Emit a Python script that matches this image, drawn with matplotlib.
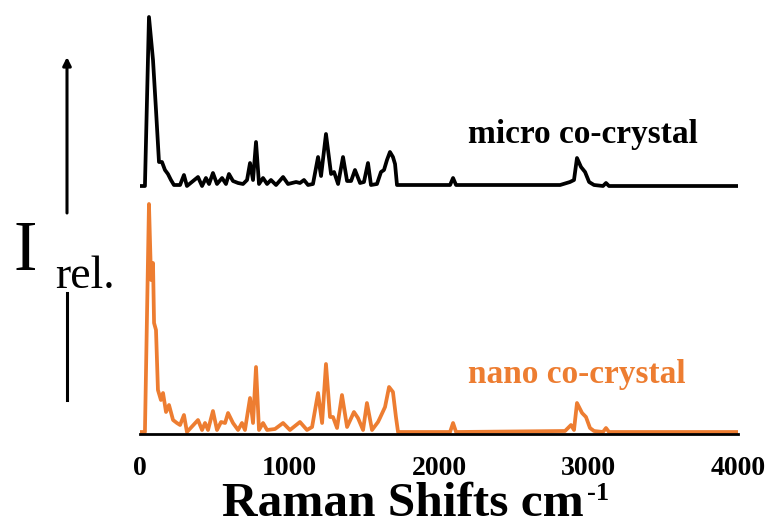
import matplotlib
matplotlib.use("Agg")
import matplotlib.pyplot as plt
from matplotlib.lines import Line2D

# Raman spectra (wavenumber in cm-1, relative intensity)
wn_micro = [0, 33, 60, 87, 107, 127, 147, 167, 187, 207, 227, 268, 294, 314, 388, 415,
            441, 462, 488, 515, 549, 575, 595, 622, 656, 689, 716, 736, 756, 776, 796,
            823, 850, 876, 910, 957, 990, 1044, 1070, 1097, 1124, 1157, 1191, 1211, 1244,
            1278, 1298, 1325, 1358, 1385, 1412, 1438, 1472, 1498, 1525, 1545, 1585, 1612,
            1632, 1652, 1672, 1692, 1706, 1719, 2007, 2074, 2094, 2114, 2810, 2876, 2903,
            2923, 2950, 2977, 3004, 3037, 3097, 3117, 3137, 4000]
int_micro = [0, 0, 169, 126, 76, 24, 24, 16, 12, 6, 1, 1, 11, 0, 9, 0,
             8, 2, 13, 2, 8, 2, 12, 5, 3, 2, 6, 23, 6, 44, 2,
             8, 2, 6, 1, 9, 2, 4, 3, 6, 1, 2, 29, 10, 52,
             12, 14, 2, 29, 5, 5, 16, 3, 4, 23, 1, 2, 14,
             16, 26, 34, 29, 22, 1, 1, 1, 8, 1, 1, 4, 6,
             28, 19, 14, 4, 1, 0, 3, 0, 0]

wn_nano = [0, 33, 60, 74, 87, 94, 107, 120, 140, 154, 174, 194, 221, 247, 268, 294,
           314, 388, 415, 435, 455, 488, 515, 542, 569, 589, 622, 656, 682, 702, 736,
           756, 776, 796, 823, 850, 903, 957, 1003, 1070, 1117, 1151, 1191, 1218, 1244,
           1271, 1291, 1318, 1351, 1385, 1431, 1458, 1492, 1518, 1552, 1592, 1605, 1639,
           1666, 1692, 1712, 1726, 2074, 2094, 2114, 2843, 2883, 2903, 2923, 2957, 2983,
           3010, 3037, 3097, 3117, 3137, 4000]
int_nano = [0, 0, 228, 152, 169, 109, 102, 42, 32, 39, 20, 27, 12, 9, 7, 17,
            0, 12, 2, 9, 2, 21, 2, 10, 9, 19, 9, 2, 9, 2, 34,
            9, 65, 2, 9, 2, 3, 9, 2, 10, 2, 5, 39, 9, 68,
            15, 15, 4, 37, 5, 20, 14, 2, 29, 2, 10, 14, 25,
            45, 40, 15, 0, 0, 9, 0, 1, 7, 2, 29, 19, 15,
            4, 1, 0, 4, 0, 0]

micro_offset = 246
x_ticks = [0, 1000, 2000, 3000, 4000]
x_tick_labels = ["0", "1000", "2000", "3000", "4000"]

ORANGE = "#ED7D31"


def plot_raman():
    plt.rcParams["font.family"] = ["Liberation Serif", "DejaVu Serif"]

    fig = plt.figure(figsize=(7.66, 5.19), dpi=100)
    ax = fig.add_axes([140 / 766, 85 / 519, 598 / 766, 434 / 519])

    # spectra, micro shifted up
    ax.plot(wn_micro, [v + micro_offset for v in int_micro], color="black", lw=2.7,
            solid_joinstyle="round")
    ax.plot(wn_nano, int_nano, color=ORANGE, lw=2.7, solid_joinstyle="round")

    ax.set_xlim(0, 4000)
    ax.set_ylim(-2, 432)
    ax.set_yticks([])
    for side in ["top", "right", "left"]:
        ax.spines[side].set_visible(False)
    ax.spines["bottom"].set_linewidth(2.0)
    ax.set_xticks(x_ticks)
    ax.set_xticklabels(x_tick_labels, fontsize=20, fontweight="bold")
    ax.tick_params(axis="x", length=0, pad=16)

    ax.text(2194, 289, "micro co-crystal", fontsize=24, fontweight="bold",
            color="black", va="baseline")
    ax.text(2194, 49, "nano co-crystal", fontsize=24, fontweight="bold",
            color=ORANGE, va="baseline")

    # x label with small superscript
    fig.text(222 / 766, 3 / 519, "Raman Shifts cm", fontsize=35.5,
             fontweight="bold", va="baseline", ha="left")
    fig.text(587 / 766, (519 - 500) / 519, "-1", fontsize=19,
             fontweight="bold", va="baseline", ha="left")

    # y label: I rel. with arrow
    fig.text(13 / 766, (519 - 270) / 519, "I", fontsize=51, va="baseline")
    fig.text(55 / 766, (519 - 288) / 519, "rel.", fontsize=33, va="baseline")
    ax.annotate("", xy=(67, 462), xytext=(67, 306), xycoords="figure pixels",
                textcoords="figure pixels",
                arrowprops=dict(arrowstyle="-|>", lw=2.2, color="black",
                                mutation_scale=12, shrinkA=0, shrinkB=0))
    fig.add_artist(Line2D([67 / 766, 67 / 766], [226 / 519, 119 / 519],
                          transform=fig.transFigure, color="black", lw=2.2))

    fig.savefig("out.png", dpi=100)


if __name__ == "__main__":
    plot_raman()
